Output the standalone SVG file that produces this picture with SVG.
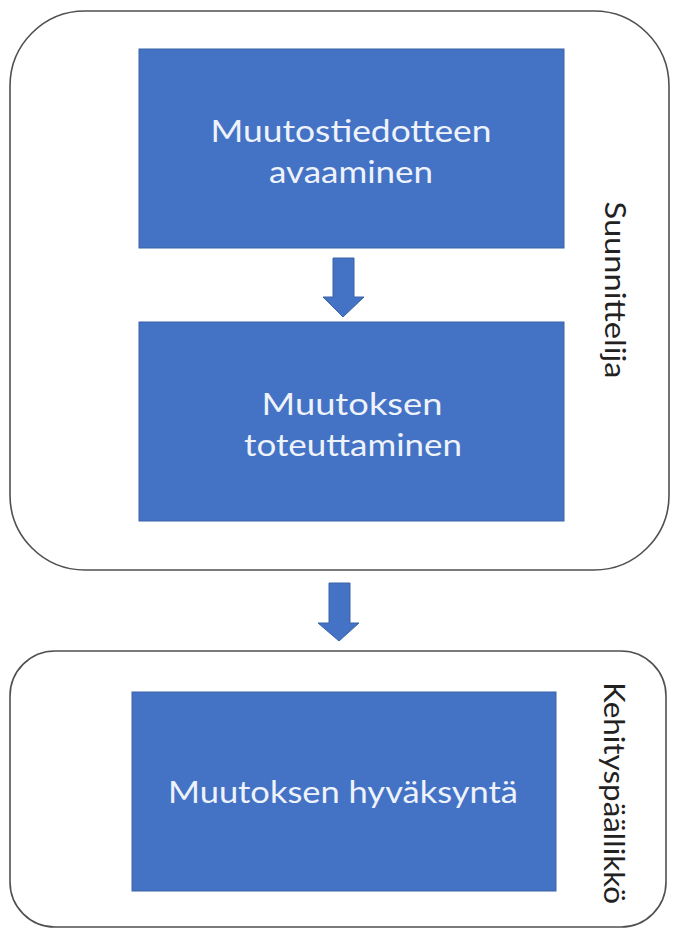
<svg xmlns="http://www.w3.org/2000/svg" width="676" height="930" viewBox="0 0 676 930">
<style>
.lane{fill:#fff;stroke:#505050;stroke-width:1.6}
.box{fill:#4472C4;stroke:#3a62a8;stroke-width:1}
.t{font-family:Lato,"Liberation Sans",sans-serif;font-size:30px;fill:#eef3fb;text-anchor:middle}
.v{font-family:Lato,"Liberation Sans",sans-serif;font-size:29px;fill:#222;text-anchor:middle}
.arr{fill:#4472C4;stroke:#3a62a8;stroke-width:1}
</style>
<rect width="676" height="930" fill="#fff"/>
<g id="lane-suunnittelija">
<rect class="lane" x="10" y="11" width="659" height="559" rx="75" ry="75"/>
<text class="v" transform="translate(605,290) rotate(90)" textLength="177" lengthAdjust="spacingAndGlyphs">Suunnittelija</text>
</g>
<g id="lane-kehityspaallikko">
<rect class="lane" x="10" y="651" width="656" height="276" rx="45" ry="45"/>
<text class="v" transform="translate(604,793) rotate(90)" textLength="222" lengthAdjust="spacingAndGlyphs">Kehityspäällikkö</text>
</g>
<g id="node1">
<rect class="box" x="139" y="49" width="425" height="199"/>
<text class="t" x="351" y="142" textLength="281" lengthAdjust="spacingAndGlyphs">Muutostiedotteen</text>
<text class="t" x="351" y="183" textLength="164" lengthAdjust="spacingAndGlyphs">avaaminen</text>
</g>
<g id="node2">
<rect class="box" x="139" y="322" width="425" height="199"/>
<text class="t" x="352" y="415" textLength="181" lengthAdjust="spacingAndGlyphs">Muutoksen</text>
<text class="t" x="353" y="456" textLength="218" lengthAdjust="spacingAndGlyphs">toteuttaminen</text>
</g>
<g id="node3">
<rect class="box" x="132" y="692" width="424" height="199"/>
<text class="t" x="343" y="803" textLength="350" lengthAdjust="spacingAndGlyphs">Muutoksen hyväksyntä</text>
</g>
<g id="connectors">
<path class="arr" d="M333 258 H354 V297 H364 L343 317 L323 297 H333 Z"/>
<path class="arr" d="M329 583 H350 V623 H359 L339 641 L318 623 H329 Z"/>
</g>
</svg>
